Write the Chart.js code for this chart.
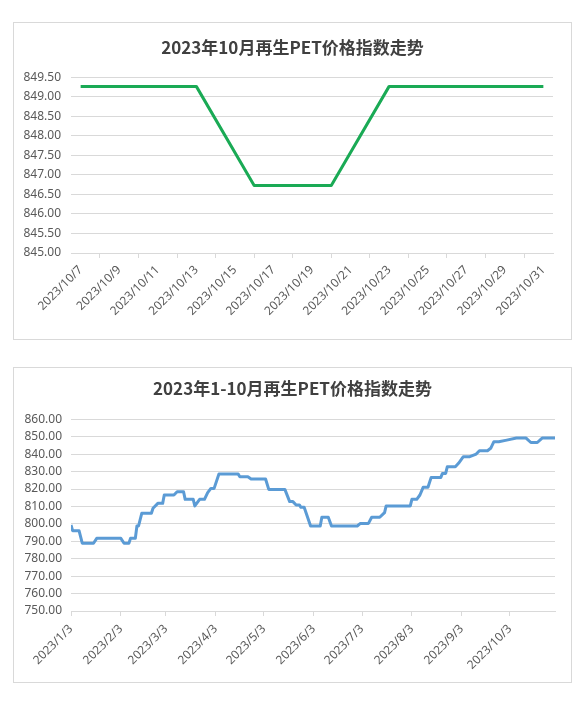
<!DOCTYPE html>
<html>
<head>
<meta charset="utf-8">
<script src="https://cdn.jsdelivr.net/npm/chart.js@4.4.0/dist/chart.umd.min.js"></script>
<style>
  body { margin: 0; background: #fff; }
  .box { position: absolute; left: 13px; width: 557px; border: 1px solid #d9d9d9; background: #fff; }
  #box1 { top: 22px; height: 316px; }
  #box2 { top: 367px; height: 314px; }
  canvas { display: block; }
</style>
</head>
<body>
<div class="box" id="box1"><canvas id="octChart" width="557" height="316"></canvas></div>
<div class="box" id="box2"><canvas id="trendChart" width="557" height="314"></canvas></div>
<script>
// October daily index (weekends 10/14-15 and 10/21-22 have no quote)
const octDays = [
  "2023/10/7", "2023/10/8", "2023/10/9", "2023/10/10", "2023/10/11", "2023/10/12", "2023/10/13",
  "2023/10/14", "2023/10/15", "2023/10/16", "2023/10/17", "2023/10/18", "2023/10/19", "2023/10/20",
  "2023/10/21", "2023/10/22", "2023/10/23", "2023/10/24", "2023/10/25", "2023/10/26", "2023/10/27",
  "2023/10/28", "2023/10/29", "2023/10/30", "2023/10/31"
];
const octValues = [
  849.27, 849.27, 849.27, 849.27, 849.27, 849.27, 849.27,
  null, null, 846.73, 846.73, 846.73, 846.73, 846.73,
  null, null, 849.27, 849.27, 849.27, 849.27, 849.27,
  849.27, 849.27, 849.27, 849.27
];

// Jan-Oct index, read at the points where the level changes
const trendDates = [
  "2023/1/3", "2023/1/4", "2023/1/8", "2023/1/10", "2023/1/17", "2023/1/19", "2023/2/3", "2023/2/5",
  "2023/2/8", "2023/2/9", "2023/2/12", "2023/2/13", "2023/2/14", "2023/2/16", "2023/2/22", "2023/2/23",
  "2023/2/26", "2023/3/1", "2023/3/2", "2023/3/8", "2023/3/10", "2023/3/14", "2023/3/15", "2023/3/20",
  "2023/3/21", "2023/3/24", "2023/3/27", "2023/3/29", "2023/3/31", "2023/4/2", "2023/4/5", "2023/4/17",
  "2023/4/18", "2023/4/23", "2023/4/25", "2023/5/4", "2023/5/6", "2023/5/16", "2023/5/19", "2023/5/21",
  "2023/5/23", "2023/5/25", "2023/5/26", "2023/5/28", "2023/6/1", "2023/6/7", "2023/6/8", "2023/6/12",
  "2023/6/14", "2023/6/30", "2023/7/2", "2023/7/7", "2023/7/9", "2023/7/14", "2023/7/17", "2023/7/18",
  "2023/8/2", "2023/8/3", "2023/8/6", "2023/8/8", "2023/8/10", "2023/8/13", "2023/8/15", "2023/8/21",
  "2023/8/22", "2023/8/24", "2023/8/25", "2023/8/30", "2023/9/1", "2023/9/4", "2023/9/8", "2023/9/12",
  "2023/9/14", "2023/9/19", "2023/9/21", "2023/9/23", "2023/9/26", "2023/10/1", "2023/10/7", "2023/10/13",
  "2023/10/16", "2023/10/20", "2023/10/23", "2023/10/31"
];
const trendValues = [
  799.4, 796.1, 796.1, 788.9, 788.9, 791.7, 791.7, 788.9,
  788.9, 791.7, 791.7, 798.8, 798.8, 806.1, 806.1, 809.0,
  811.8, 811.8, 816.6, 816.6, 818.5, 818.5, 814.1, 814.1,
  810.3, 814.1, 814.1, 818.0, 820.4, 820.4, 828.6, 828.6,
  827.1, 827.1, 825.8, 825.8, 819.8, 819.8, 812.8, 812.8,
  810.9, 810.9, 809.5, 809.5, 798.8, 798.8, 803.8, 803.8,
  798.8, 798.8, 800.3, 800.3, 803.8, 803.8, 806.5, 810.3,
  810.3, 814.1, 814.1, 816.6, 821.0, 821.0, 826.7, 826.7,
  829.0, 829.0, 832.8, 832.8, 834.8, 838.6, 838.6, 840.1,
  842.0, 842.0, 843.4, 847.2, 847.2, 848.1, 849.27, 849.27,
  846.73, 846.73, 849.27, 849.27
];
const trendTicks = [
  "2023/1/3", "2023/2/3", "2023/3/3", "2023/4/3", "2023/5/3",
  "2023/6/3", "2023/7/3", "2023/8/3", "2023/9/3", "2023/10/3"
];

const titleColor = "#404040";
const tickColor = "#595959";
const gridColor = "#d9d9d9";

// days since 2023/1/3
function dayIndex(str) {
  const p = str.split("/").map(Number);
  return (Date.UTC(p[0], p[1] - 1, p[2]) - Date.UTC(2023, 0, 3)) / 86400000;
}

const tickFont = { family: "'Noto Sans', 'Liberation Sans', sans-serif", size: 12 };
const titleFont = { family: "'Noto Sans CJK SC', sans-serif", size: 17, weight: "bold" };

// empty axis on the right, only to leave a gap there and keep the title centred on the box
function spacerAxis(w) {
  return {
    position: "right",
    afterFit: (scale) => { scale.width = w; },
    grid: { display: false },
    border: { display: false },
    ticks: { display: false },
  };
}

new Chart(document.getElementById("octChart"), {
  type: "line",
  data: {
    labels: octDays,
    datasets: [{
      data: octValues,
      borderColor: "#1aaa55",
      borderWidth: 3,
      pointRadius: 0,
      borderJoinStyle: "round",
      spanGaps: true,
      tension: 0,
    }],
  },
  options: {
    responsive: false,
    animation: false,
    layout: { padding: 0 },
    plugins: {
      legend: { display: false },
      tooltip: { enabled: false },
      title: {
        display: true,
        text: "2023年10月再生PET价格指数走势",
        color: titleColor,
        font: titleFont,
        padding: { top: 14, bottom: 20 },
      },
    },
    scales: {
      x: {
        type: "category",
        offset: true,
        afterFit: (scale) => { scale.height = 86; },
        grid: { offset: true, drawOnChartArea: false, color: gridColor, tickLength: 5 },
        border: { color: gridColor },
        ticks: {
          autoSkip: false,
          maxRotation: 45,
          minRotation: 45,
          padding: 5,
          color: tickColor,
          font: tickFont,
          callback: function (value, index) {
            return index % 2 === 0 ? octDays[index] : null;
          },
        },
      },
      y: {
        min: 845,
        max: 849.5,
        afterFit: (scale) => { scale.width = 57; },
        grid: { color: gridColor, drawTicks: false },
        border: { display: false },
        ticks: {
          stepSize: 0.5,
          padding: 10,
          color: tickColor,
          font: tickFont,
          callback: (v) => Number(v).toFixed(2),
        },
      },
      gap: spacerAxis(18),
    },
  },
});

const trendPoints = trendDates.map((d, i) => ({ x: dayIndex(d), y: trendValues[i] }));

new Chart(document.getElementById("trendChart"), {
  type: "line",
  data: {
    datasets: [{
      data: trendPoints,
      borderColor: "#5b9bd5",
      borderWidth: 3,
      pointRadius: 0,
      borderJoinStyle: "round",
      tension: 0,
    }],
  },
  options: {
    responsive: false,
    animation: false,
    layout: { padding: 0 },
    plugins: {
      legend: { display: false },
      tooltip: { enabled: false },
      title: {
        display: true,
        text: "2023年1-10月再生PET价格指数走势",
        color: titleColor,
        font: titleFont,
        padding: { top: 10, bottom: 21 },
      },
    },
    scales: {
      x: {
        type: "linear",
        min: 0,
        max: dayIndex("2023/10/31"),
        afterFit: (scale) => { scale.height = 71; },
        afterBuildTicks: (scale) => {
          scale.ticks = trendTicks.map((t) => ({ value: dayIndex(t) }));
        },
        grid: { drawOnChartArea: false, color: gridColor, tickLength: 5 },
        border: { color: gridColor },
        ticks: {
          autoSkip: false,
          maxRotation: 45,
          minRotation: 45,
          padding: 6,
          color: tickColor,
          font: tickFont,
          callback: function (value) {
            const t = trendTicks.find((s) => dayIndex(s) === value);
            return t || "";
          },
        },
      },
      y: {
        min: 750,
        max: 860,
        afterFit: (scale) => { scale.width = 57; },
        grid: { color: gridColor, drawTicks: false },
        border: { display: false },
        ticks: {
          stepSize: 10,
          padding: 9,
          color: tickColor,
          font: tickFont,
          callback: (v) => Number(v).toFixed(2),
        },
      },
      gap: spacerAxis(16),
    },
  },
});
</script>
</body>
</html>
